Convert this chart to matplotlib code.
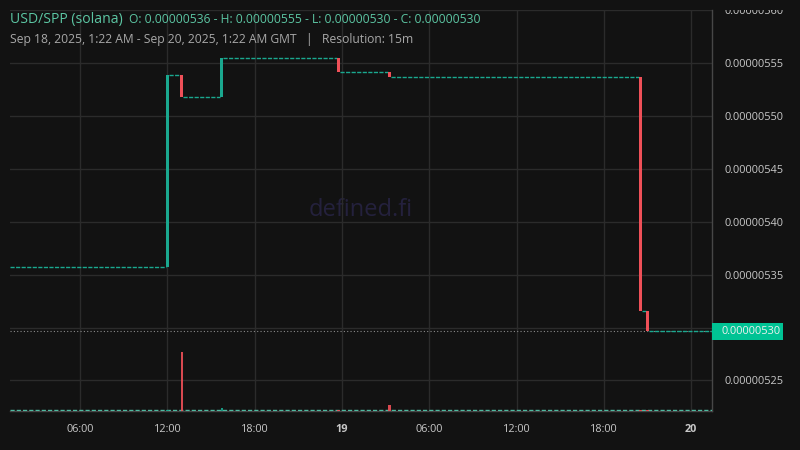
import matplotlib
matplotlib.use("Agg")
import matplotlib.pyplot as plt
from matplotlib.patches import Rectangle
from matplotlib.transforms import Bbox
from datetime import datetime, timedelta

plt.rcParams['font.family'] = ['Open Sans', 'Noto Sans', 'DejaVu Sans']

# time range shown
t_start = datetime(2025, 9, 18, 1, 11)
t_end = datetime(2025, 9, 20, 1, 26)

# candles where price moved (15m resolution)
candle_times = [datetime(2025, 9, 18, 12, 0), datetime(2025, 9, 18, 13, 0),
                datetime(2025, 9, 18, 15, 45), datetime(2025, 9, 18, 23, 45),
                datetime(2025, 9, 19, 3, 15), datetime(2025, 9, 19, 20, 30),
                datetime(2025, 9, 19, 21, 0)]
opens = [5.357e-6, 5.539e-6, 5.518e-6, 5.555e-6, 5.542e-6, 5.537e-6, 5.316e-6]
closes = [5.539e-6, 5.518e-6, 5.555e-6, 5.542e-6, 5.537e-6, 5.316e-6, 5.2965e-6]
volumes = [15, 590, 30, 12, 60, 8, 8]
start_price = 5.357e-6
last_price = 5.2965e-6

price_ticks = [5.25e-6, 5.30e-6, 5.35e-6, 5.40e-6, 5.45e-6, 5.50e-6, 5.55e-6, 5.60e-6]

bg = '#121212'
grid_c = '#2b2b2b'
up_c = '#1aa88f'
down_c = '#ef5058'
flat_c = '#1aa88f'

fig = plt.figure(figsize=(8, 4.5), dpi=100, facecolor=bg)
ax = fig.add_axes([10 / 800, 1 - 411 / 450, 702 / 800, 401 / 450])
ax.set_facecolor(bg)

width = timedelta(minutes=12)
for t, o, c in zip(candle_times, opens, closes):
    col = up_c if c >= o else down_c
    ax.bar(t, c - o, bottom=o, width=width, color=col, linewidth=0, zorder=3)

# flat stretches (no price change) drawn as dashed lines
level_starts = [t_start] + candle_times
level_ends = candle_times + [t_end]
levels = [start_price] + closes
for i, (a, b, lv) in enumerate(zip(level_starts, level_ends, levels)):
    if i > 0:
        a = a + width / 2
    if i < len(candle_times):
        b = b - width / 2
    ax.hlines(lv, a, b, colors=flat_c, linewidth=1.0, linestyles=(0, (3.0, 1.0)), zorder=2)

# last price line
ax.axhline(last_price, color='#8a8a8a', linewidth=0.8, linestyle=(0, (1, 2)), zorder=1)

ax.set_xlim(t_start, t_end)
ax.set_ylim(5.221e-6, 5.6004e-6)

# volume on its own scale
vax = ax.twinx()
vax.bar(candle_times, volumes, width=timedelta(minutes=11),
        color=[up_c if c >= o else down_c for o, c in zip(opens, closes)],
        alpha=0.9, linewidth=0, zorder=3)
vax.axhline(8, color='#4fb9a0', linewidth=1.0, linestyle=(0, (3, 1.5)), zorder=2)
vax.set_ylim(0, 590 * 401 / 59)
vax.set_yticks([])
for s in vax.spines.values():
    s.set_visible(False)

# axes look
for s in ['left', 'top']:
    ax.spines[s].set_visible(False)
for s in ['right', 'bottom']:
    ax.spines[s].set_color('#474747')
    ax.spines[s].set_linewidth(1)

ax.yaxis.tick_right()
ax.set_yticks(price_ticks)
# the current-price tag covers the 0.00000530 label
ax.set_yticklabels(['' if abs(p - 5.30e-6) < 1e-12 else '%.8f' % p for p in price_ticks])
ax.tick_params(axis='y', colors='#c8c8c8', labelsize=7.9, length=0, pad=9)
ax.tick_params(axis='x', colors='#c8c8c8', labelsize=7.8, length=0, pad=9)

xt = [datetime(2025, 9, 18, h) for h in (6, 12, 18)] + [datetime(2025, 9, 19, 0)] + \
     [datetime(2025, 9, 19, h) for h in (6, 12, 18)] + [datetime(2025, 9, 20, 0)]
xl = ['06:00', '12:00', '18:00', '19', '06:00', '12:00', '18:00', '20']
ax.set_xticks(xt)
ax.set_xticklabels(xl)
for lab in ax.get_xticklabels():
    if lab.get_text() in ('19', '20'):
        lab.set_fontweight('bold')

ax.grid(True, color=grid_c, linewidth=1)
ax.set_axisbelow(True)

# clip tick labels to below the plot top
clipbox = Bbox.from_extents(0, 0, 800, 450 - 10)
for lab in ax.get_yticklabels():
    lab.set_clip_box(clipbox)
    lab.set_clip_on(True)

# current price tag
tag = Rectangle((712 / 800, 1 - 340 / 450), 71 / 800, 17 / 450, transform=fig.transFigure,
                facecolor='#00c394', edgecolor='none', zorder=10)
fig.patches.append(tag)
fig.text(722 / 800, 1 - 331.5 / 450, '%.8f' % 5.30e-6, ha='left', va='center',
         fontsize=7.9, color='#f0f0f0', zorder=11)

# watermark
ax.text(0.5, 0.5, 'defined.fi', transform=ax.transAxes, ha='center', va='center',
        fontsize=17, color='#24213d', zorder=0)

# headers
fig.text(10 / 800, 1 - 19 / 450, 'USD/SPP (solana)', fontsize=10.1, color='#5cc6a3',
         ha='left', va='center')
fig.text(129 / 800, 1 - 19.5 / 450,
         'O: 0.00000536 - H: 0.00000555 - L: 0.00000530 - C: 0.00000530',
         fontsize=8.7, color='#5cc6a3', ha='left', va='center')
fig.text(10 / 800, 1 - 40 / 450,
         'Sep 18, 2025, 1:22 AM - Sep 20, 2025, 1:22 AM GMT   |   Resolution: 15m',
         fontsize=8.7, color='#a8a8a8', ha='left', va='center')

fig.savefig('out.png', dpi=100, facecolor=bg)
